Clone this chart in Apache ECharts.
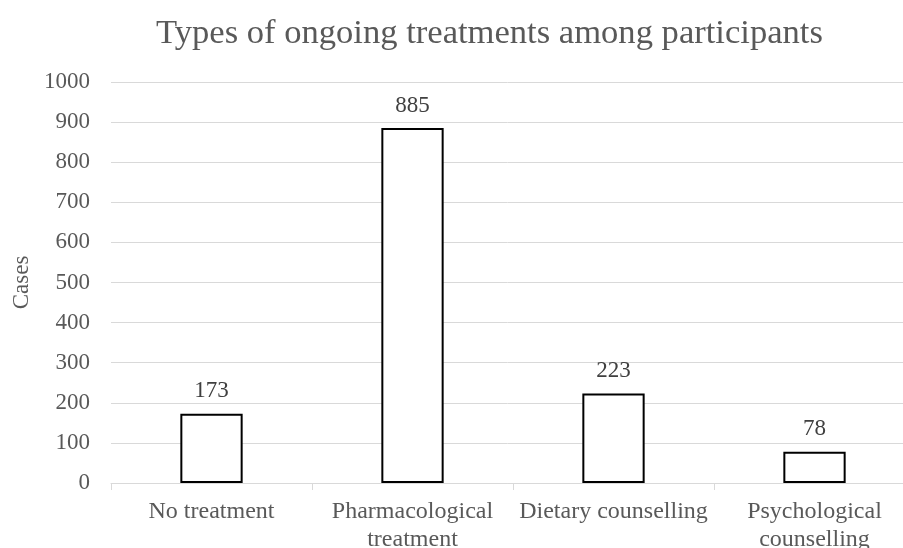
<!DOCTYPE html>
<html>
<head>
<meta charset="utf-8">
<script src="https://cdn.jsdelivr.net/npm/echarts@6/dist/echarts.min.js"></script>
<style>
  html, body { margin: 0; padding: 0; background: #fff; }
  #chart { width: 903px; height: 548px; }
</style>
</head>
<body>
<div id="chart"></div>
<script>
// chart data
var categories = ['No treatment', 'Pharmacological\ntreatment', 'Dietary counselling', 'Psychological\ncounselling'];
var cases = [173, 885, 223, 78];
var yTicks = [0, 100, 200, 300, 400, 500, 600, 700, 800, 900, 1000];

var serif = '"Liberation Serif", "Times New Roman", serif';

var myChart = echarts.init(document.getElementById('chart'));
var option = {
    animation: false,
    backgroundColor: '#ffffff',
    title: {
        text: 'Types of ongoing treatments among participants',
        left: 151,
        top: 11,
        textStyle: {
            fontFamily: serif,
            fontSize: 34.6,
            fontWeight: 'normal',
            color: '#595959'
        }
    },
    grid: {
        left: 111,
        right: -12,
        top: 82,
        bottom: 65,
        containLabel: false,
        outerBoundsMode: 'none'
    },
    xAxis: {
        type: 'category',
        data: categories,
        axisLine: { lineStyle: { color: '#d9d9d9', width: 1 } },
        axisTick: { show: true, length: 7, lineStyle: { color: '#d9d9d9' } },
        axisLabel: {
            fontFamily: serif,
            fontSize: 24,
            color: '#595959',
            margin: 15,
            lineHeight: 28,
            interval: 0
        }
    },
    yAxis: {
        type: 'value',
        min: yTicks[0],
        max: yTicks[yTicks.length - 1],
        interval: 100,
        name: 'Cases',
        nameLocation: 'middle',
        nameGap: 78,
        nameRotate: 90,
        nameTextStyle: {
            fontFamily: serif,
            fontSize: 23,
            color: '#595959'
        },
        axisLine: { show: false },
        axisTick: { show: false },
        splitLine: { lineStyle: { color: '#d9d9d9', width: 1 } },
        axisLabel: {
            fontFamily: serif,
            fontSize: 23,
            color: '#595959',
            margin: 21,
            formatter: function (v) { return String(v); }
        }
    },
    series: [
        {
            name: 'Cases',
            type: 'bar',
            data: cases,
            barWidth: '31%',
            itemStyle: {
                color: '#ffffff',
                borderColor: '#000000',
                borderWidth: 2
            },
            label: {
                show: true,
                position: 'top',
                distance: 11,
                fontFamily: serif,
                fontSize: 23,
                color: '#404040'
            }
        }
    ]
};
myChart.setOption(option);
</script>
</body>
</html>
